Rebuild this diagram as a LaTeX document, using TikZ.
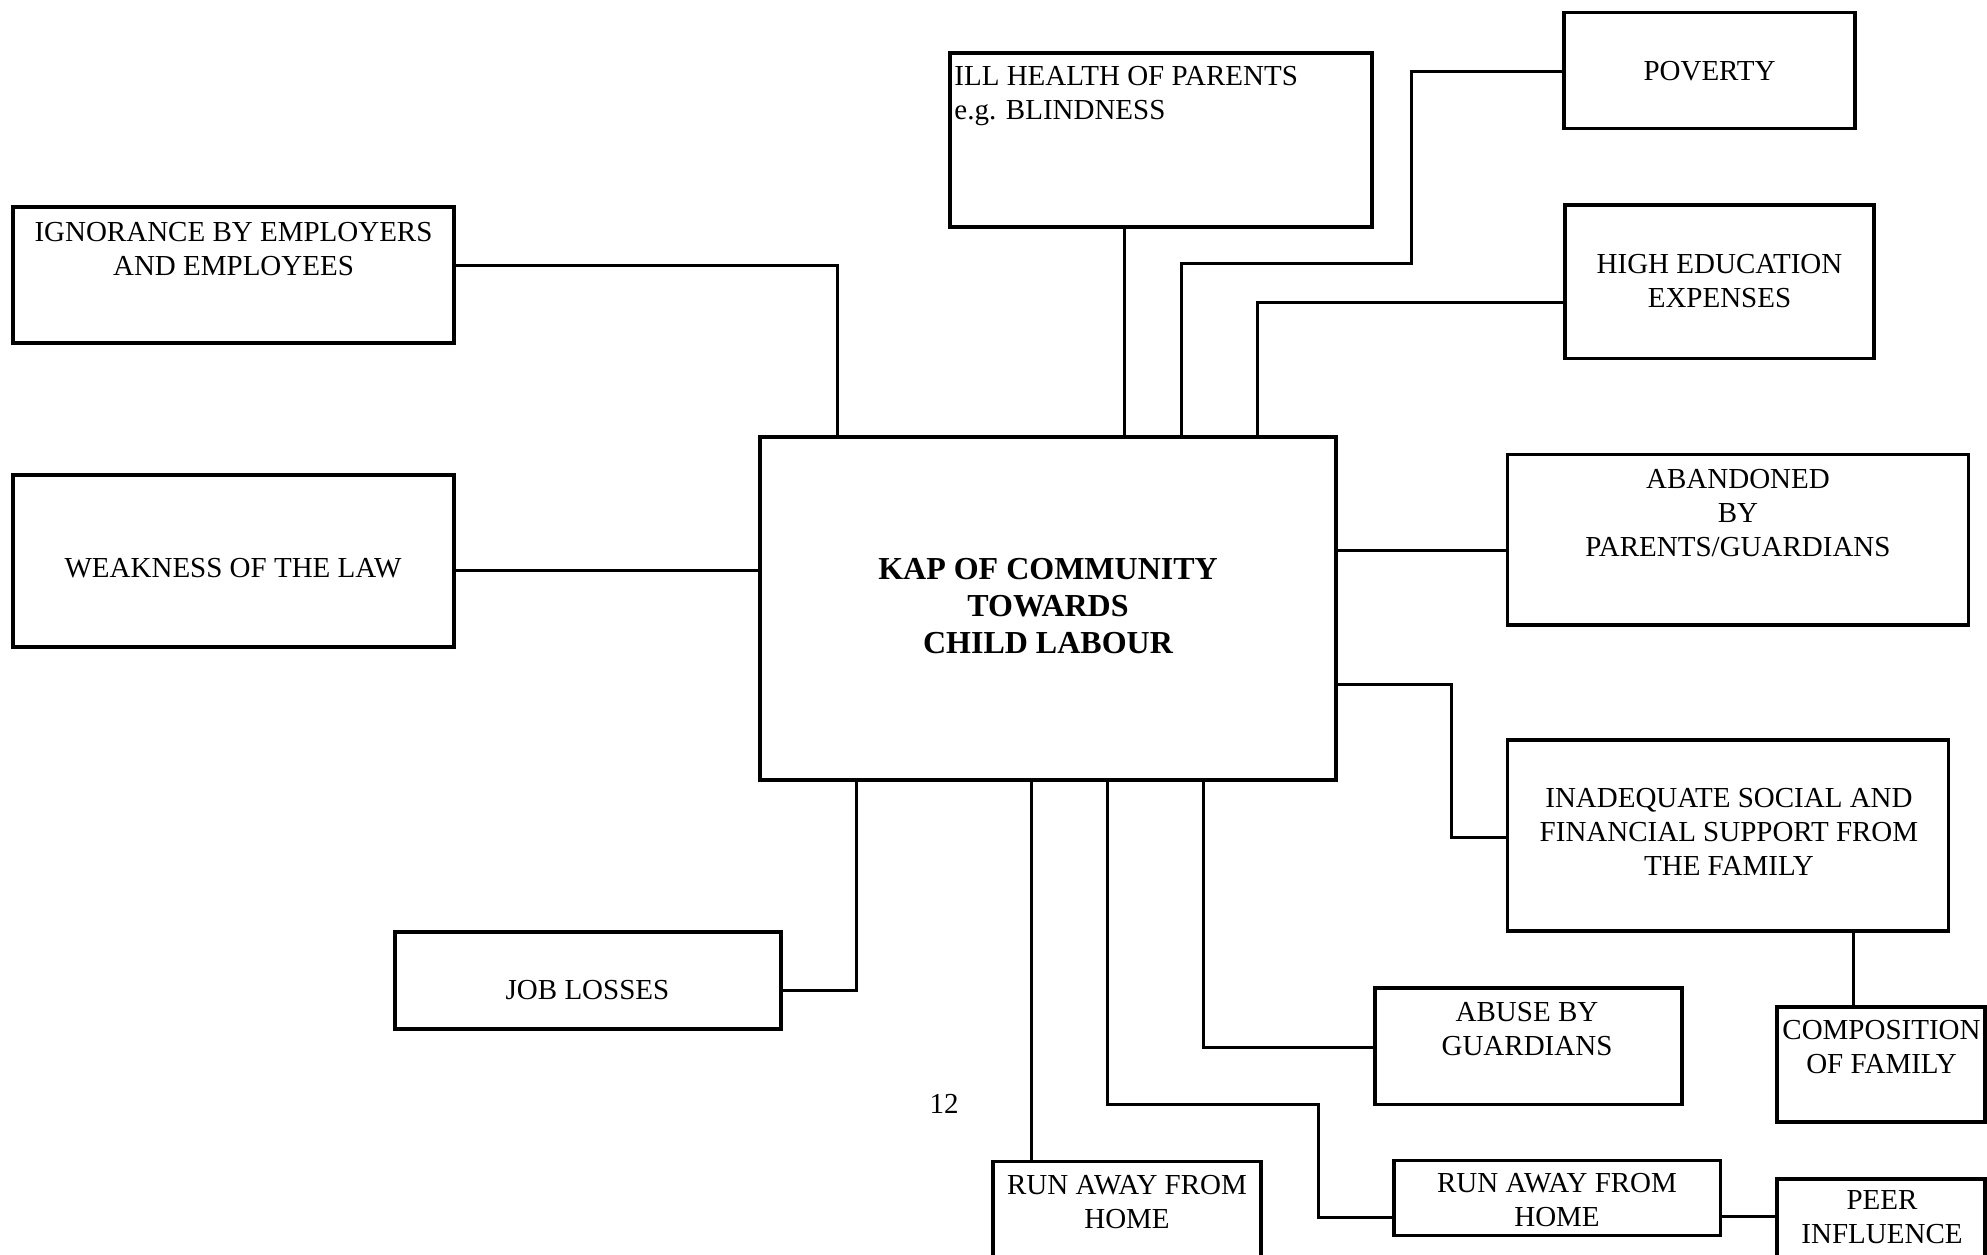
\documentclass[tikz,border=0pt]{standalone}
\usepackage{fontspec}
\setmainfont{Liberation Serif}
\usetikzlibrary{fit,calc}
\begin{document}
\begin{tikzpicture}[x=0.5pt,y=-0.5pt,
  box/.style={draw, line width=1.6pt, inner sep=0pt, rectangle},
  conn/.style={draw, line width=1.5pt},
  txt/.style={font=\fontsize{14.5}{17}\selectfont, align=center, inner sep=0pt},
  ktxt/.style={font=\fontsize{16}{18.5}\selectfont\bfseries, align=center, inner sep=0pt}]
\clip (0,0) rectangle (1987,1254);
\fill[white] (0,0) rectangle (1987,1254);
% boxes
\node[box, fit={(13,207) (454,343)}] (ign) {};
\node[box, fit={(13,475) (454,647)}] (law) {};
\node[box, fit={(950,53) (1372,227)}] (ill) {};
\node[box, fit={(1564,12.5) (1855,128.6)}] (pov) {};
\node[box, fit={(1565,205) (1874,358.5)}] (edu) {};
\node[box, fit={(760,437) (1336,780)}] (kap) {};
\node[box, fit={(1507.5,454.5) (1968.5,625)}] (aba) {};
\node[box, fit={(1507.5,740) (1948.7,931)}] (inad) {};
\node[box, fit={(1777,1007) (1985,1122)}] (comp) {};
\node[box, fit={(1375,988) (1682,1104.5)}] (abuse) {};
\node[box, fit={(993,1161.6) (1261,1300)}] (run1) {};
\node[box, fit={(1394,1160.4) (1720.5,1235.5)}] (run2) {};
\node[box, fit={(1777,1179) (1985,1300)}] (peer) {};
\node[box, fit={(395,932) (781,1029)}] (job) {};
% texts
\node[txt] (tign) at (233.5,249) {IGNORANCE BY EMPLOYERS\\AND EMPLOYEES};
\node[txt] (tlaw) at (233,568) {WEAKNESS OF THE LAW};
\node[txt, align=left, anchor=west] (till) at (954,96) {ILL HEALTH OF PARENTS\\e.g. BLINDNESS};
\node[txt] (tpov) at (1709.5,71.4) {POVERTY};
\node[txt] (tedu) at (1719.5,281.2) {HIGH EDUCATION\\EXPENSES};
\node[ktxt] (tkap) at (1048,606) {KAP OF COMMUNITY\\TOWARDS\\CHILD LABOUR};
\node[txt] (taba) at (1738,513) {ABANDONED\\BY\\PARENTS/GUARDIANS};
\node[txt] (tinad) at (1729,832) {INADEQUATE SOCIAL AND\\FINANCIAL SUPPORT FROM\\THE FAMILY};
\node[txt] (tcomp) at (1881.5,1047.3) {COMPOSITION\\OF FAMILY};
\node[txt] (tabuse) at (1527,1029) {ABUSE BY\\GUARDIANS};
\node[txt] (trun1) at (1127,1201.7) {RUN AWAY FROM\\HOME};
\node[txt] (trun2) at (1557,1200.3) {RUN AWAY FROM\\HOME};
\node[txt] (tpeer) at (1882,1217.3) {PEER\\INFLUENCE};
\node[txt] (tjob) at (587.5,989.8) {JOB LOSSES};
\node[txt] (tpage) at (944,1104) {12};
% connectors
\draw[conn] (ign.east |- 0,265) -| (kap.north -| 837,0);
\draw[conn] (law.east |- 0,570) -- (kap.west |- 0,570);
\draw[conn] (ill.south -| 1124,0) -- (kap.north -| 1124,0);
\draw[conn] (pov.west |- 0,71.4) -| (1411,263.4) -| (kap.north -| 1181.5,0);
\draw[conn] (edu.west |- 0,302) -| (kap.north -| 1257.5,0);
\draw[conn] (kap.east |- 0,550) -- (aba.west |- 0,550);
\draw[conn] (kap.east |- 0,684) -| (1451,837) -- (inad.west |- 0,837);
\draw[conn] (inad.south -| 1853,0) -- (comp.north -| 1853,0);
\draw[conn] (kap.south -| 856.5,0) |- (job.east |- 0,990);
\draw[conn] (kap.south -| 1031,0) -- (run1.north -| 1031,0);
\draw[conn] (kap.south -| 1107,0) |- (1318,1104) |- (run2.west |- 0,1217);
\draw[conn] (kap.south -| 1203,0) |- (abuse.west |- 0,1047);
\draw[conn] (run2.east |- 0,1216) -- (peer.west |- 0,1216);
\end{tikzpicture}
\end{document}
